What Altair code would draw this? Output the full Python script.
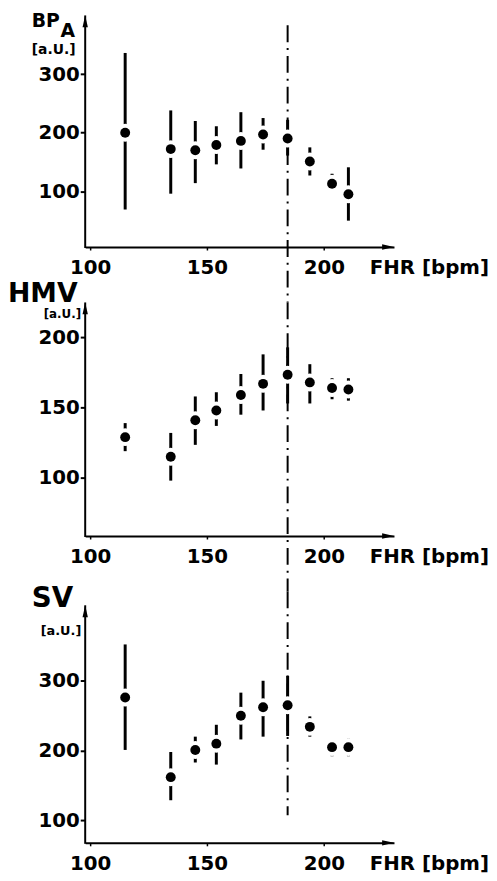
import altair as alt
import pandas as pd

# ---- data ----
fhr = [115, 134.5, 145, 154, 164.5, 174, 184.5, 194, 203.5, 210.5]

bpa_mean = [200, 172, 170, 179, 186, 197, 190, 151, 113, 95]
bpa_lo = [69, 96, 114, 146, 139, 171, 161, 127, 99, 50]
bpa_hi = [336, 238, 220, 211, 235, 225, 222, 175, 130, 141]

hmv_mean = [129, 115, 141, 148, 159, 167, 173.5, 168, 164, 163]
hmv_lo = [119, 98, 123.5, 137, 145, 148, 153, 153, 156, 155]
hmv_hi = [139, 132, 158, 161, 174, 188, 193, 181, 171, 171]

sv_mean = [276, 162, 201, 210, 250, 262, 265, 234, 205, 205]
sv_lo = [201, 129, 183, 180, 216, 220, 221, 220, 192, 192]
sv_hi = [352, 198, 220, 237, 283, 300, 307, 249, 216, 217]

x_ticks = [100, 150, 200]
threshold = [184.5]
x_title = "FHR [bpm]"
unit_label = "[a.U.]"

FONT = "DejaVu Sans"
W = 312
GAP = 56
dummy = pd.DataFrame({"k": [0]})


def txt(text, dx, dy, size):
    return alt.Chart(dummy).mark_text(
        text=text, align="left", baseline="alphabetic", font=FONT,
        fontWeight="bold", fontSize=size, color="black"
    ).encode(x=alt.value(dx), y=alt.value(dy))


def panel(mean, lo, hi, ydomain, yticks, height, titles, rule_top, rule_bottom, pad=0):
    df = pd.DataFrame({"fhr": fhr, "mean": mean, "lo": lo, "hi": hi})
    xscale = alt.Scale(domain=[97.9, 230], nice=False, zero=False)
    yscale = alt.Scale(domain=ydomain, nice=False, zero=False)
    xaxis = alt.Axis(
        values=x_ticks, title=x_title, titleX=287, titleY=11,
        titleAlign="left", titleBaseline="top", titleFont=FONT,
        titleFontSize=20, titleFontWeight="bold", titleColor="black",
        labelFont=FONT, labelFontSize=20, labelFontWeight="bold",
        labelColor="black", labelPadding=8, labelFlush=False,
        labelOverlap=False, domainColor="black", domainWidth=2,
        tickColor="black", tickSize=3, tickWidth=1.5, grid=False,
    )
    yaxis = alt.Axis(
        values=yticks, title=None, labelFont=FONT, labelFontSize=20,
        labelFontWeight="bold", labelColor="black", labelPadding=1,
        labelFlush=False, labelOverlap=False, domain=False,
        tickColor="black", tickSize=5, tickWidth=2, grid=False,
    )
    x = alt.X("fhr:Q", scale=xscale, axis=xaxis)
    base = alt.Chart(df)
    bars = base.mark_rule(color="black", strokeWidth=3).encode(
        x=x, y=alt.Y("lo:Q", scale=yscale, axis=yaxis), y2="hi:Q"
    )
    halo = base.mark_point(filled=True, color="white", size=330, opacity=1).encode(
        x=x, y=alt.Y("mean:Q", scale=yscale, axis=yaxis)
    )
    dots = base.mark_point(filled=True, color="black", size=100, opacity=1).encode(
        x=x, y=alt.Y("mean:Q", scale=yscale, axis=yaxis)
    )
    vline = alt.Chart(pd.DataFrame({"t": threshold})).mark_rule(
        color="black", strokeWidth=2, strokeDash=[17, 6, 2, 6]
    ).encode(
        x=alt.X("t:Q", scale=xscale, axis=xaxis),
        y=alt.value(rule_top), y2=alt.value(rule_bottom),
    )
    yline = alt.Chart(dummy).mark_rule(color="black", strokeWidth=2).encode(
        x=alt.value(0), y=alt.value(pad), y2=alt.value(height + 1)
    )
    yarrow = alt.Chart(dummy).mark_point(
        shape="M0,-1L0.45,1L-0.45,1Z", filled=True, color="black",
        size=144, opacity=1,
    ).encode(x=alt.value(0), y=alt.value(pad + 6))
    xarrow = alt.Chart(dummy).mark_point(
        shape="M1,0L-1,-0.45L-1,0.45Z", filled=True, color="black",
        size=144, opacity=1,
    ).encode(x=alt.value(W - 6), y=alt.value(height))
    layers = [vline, bars, halo, dots, yline, yarrow, xarrow]
    layers += [txt(t[0], t[1], t[2] + pad, t[3]) for t in titles]
    return alt.layer(*layers).properties(width=W, height=height)


H1, H2, H3, PAD3 = 234, 236, 240, 14

p1 = panel(
    bpa_mean, bpa_lo, bpa_hi, [5, 400], [100, 200, 300], H1,
    [("BP", -54, 12, 19), ("A", -25, 22, 19), (unit_label, -54, 39, 14)],
    10, H1 + GAP,
)
p2 = panel(
    hmv_mean, hmv_lo, hmv_hi, [58.5, 225], [100, 150, 200], H2,
    [("HMV", -78, 0, 27), (unit_label, -42, 16, 12)],
    0, H2 + GAP,
)
# the third panel's plot area starts PAD3 px above its axis arrow
p3 = panel(
    sv_mean, sv_lo, sv_hi, [68, 408 + PAD3 * 340 / H3], [100, 200, 300], H3 + PAD3,
    [("SV", -54, 2, 28), (unit_label, -45, 30, 13)],
    0, PAD3 + 212, pad=PAD3,
)

chart = alt.vconcat(p1, p2, p3, spacing=GAP, bounds="flush").properties(
    padding={"left": 0, "top": 0, "right": 0, "bottom": 0}, background="white"
).configure_view(stroke=None)

chart.save("out.html", embed_options={"renderer": "svg", "actions": False})
